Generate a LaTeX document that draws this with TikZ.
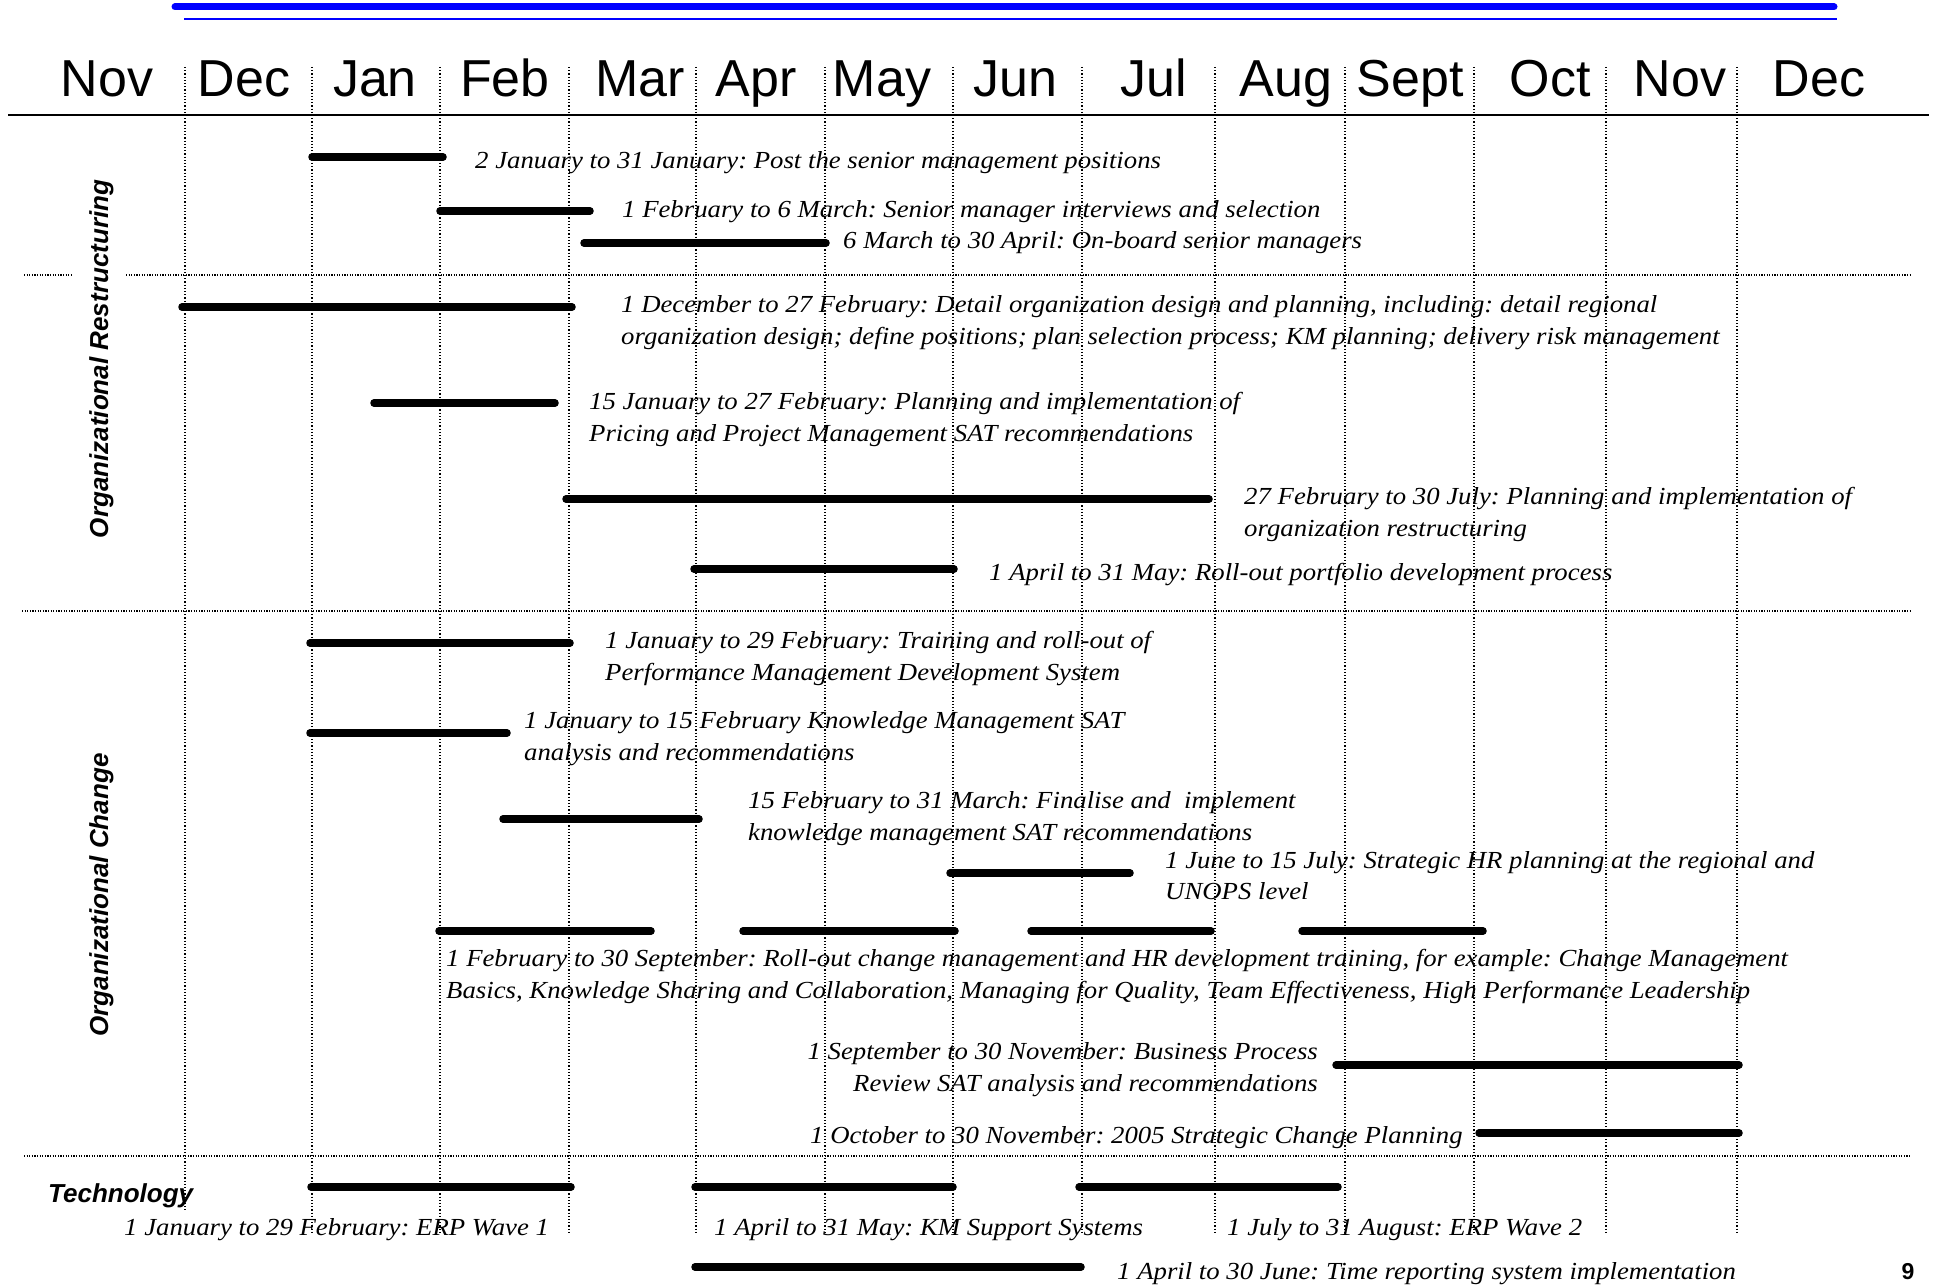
\documentclass[tikz,border=0pt]{standalone}
\usepackage{fontspec}
\setmainfont{Liberation Serif}
\setsansfont{Liberation Sans}
\newfontfamily\lblfam{Liberation Serif}[FakeStretch=1.092]
\newcommand{\lblfont}{\lblfam\itshape\fontsize{24.5}{32}\selectfont\frenchspacing}
\newcommand{\monthfont}{\sffamily\fontsize{52}{60}\selectfont}
\newcommand{\sectfont}{\sffamily\bfseries\itshape\fontsize{26}{30}\selectfont}
\definecolor{topblue}{RGB}{0,0,255}
\frenchspacing
\begin{document}
\begin{tikzpicture}[x=1pt,y=-1pt,
  grid/.style={line width=1.2pt, dash pattern=on 1.2pt off 2pt},
  sep/.style={line width=1.2pt, dash pattern=on 1.2pt off 1.4pt},
  bar/.style={line width=7.5pt, line cap=round},
  lbl/.style={font=\lblfont, anchor=base west, inner sep=0pt},
  lblr/.style={font=\lblfont, anchor=base east, inner sep=0pt},
  month/.style={font=\monthfont, anchor=base, inner sep=0pt},
  sect/.style={font=\sectfont, inner sep=0pt}]
\useasboundingbox (0,0) rectangle (1933,1287);
% top blue rules
\draw[topblue, line width=7pt, line cap=round] (175,7) -- (1834,7);
\draw[topblue, line width=2pt] (184,19) -- (1837,19);
% month labels
\foreach \m/\x [count=\i] in {Nov/107,Dec/244,Jan/375,Feb/505,Mar/640,Apr/756,May/882,Jun/1015,Jul/1154,Aug/1286,Sept/1410,Oct/1550,Nov/1680,Dec/1819}
  \node[month] (m\i) at (\x,97) {\m};
\draw[line width=2.5pt] (8,115) -- (1929,115);
% vertical grid lines
\draw[grid] (185,67) -- (185,1210);
\foreach \x in {312,440,569,696,825,953,1082,1215,1345,1474,1606,1737}
  \draw[grid] (\x,67) -- (\x,1233);
% separators
\draw[sep] (24,275) -- (73,275);
\draw[sep] (126,275) -- (1911,275);
\draw[sep] (22,611) -- (1911,611);
\draw[sep] (24,1156) -- (1911,1156);
% section labels
\node[sect, rotate=90, anchor=base] (s1) at (108,359) {Organizational Restructuring};
\node[sect, rotate=90, anchor=base] (s2) at (108,895) {Organizational Change};
\node[sect, anchor=base west] (s3) at (48,1202) {Technology};
% Organizational Restructuring
\draw[bar] (312,157) -- (443,157);
\node[lbl] (t1) at (475,168) {2 January to 31 January: Post the senior management positions};
\draw[bar] (440,211) -- (590,211);
\node[lbl] (t2) at (622,217) {1 February to 6 March: Senior manager interviews and selection};
\draw[bar] (584,243) -- (826,243);
\node[lbl] (t3) at (843,248) {6 March to 30 April: On-board senior managers};
\draw[bar] (182,307) -- (572,307);
\node[lbl] (t4a) at (621,312) {1 December to 27 February: Detail organization design and planning, including: detail regional};
\node[lbl] (t4b) at (621,344) {organization design; define positions; plan selection process; KM planning; delivery risk management};
\draw[bar] (374,403) -- (555,403);
\node[lbl] (t5a) at (589,409) {15 January to 27 February: Planning and implementation of};
\node[lbl] (t5b) at (589,441) {Pricing and Project Management SAT recommendations};
\draw[bar] (566,499) -- (1209,499);
\node[lbl] (t6a) at (1244,504) {27 February to 30 July: Planning and implementation of};
\node[lbl] (t6b) at (1244,536) {organization restructuring};
\draw[bar] (694,569) -- (954,569);
\node[lbl] (t7) at (989,580) {1 April to 31 May: Roll-out portfolio development process};
% Organizational Change
\draw[bar] (310,643) -- (570,643);
\node[lbl] (t8a) at (605,648) {1 January to 29 February: Training and roll-out of};
\node[lbl] (t8b) at (605,680) {Performance Management Development System};
\draw[bar] (310,733) -- (507,733);
\node[lbl] (t9a) at (524,728) {1 January to 15 February Knowledge Management SAT};
\node[lbl] (t9b) at (524,760) {analysis and recommendations};
\draw[bar] (503,819) -- (699,819);
\node[lbl] (t10a) at (748,808) {15 February to 31 March: Finalise and\ \ implement};
\node[lbl] (t10b) at (748,840) {knowledge management SAT recommendations};
\draw[bar] (950,873) -- (1130,873);
\node[lbl] (t11a) at (1165,868) {1 June to 15 July: Strategic HR planning at the regional and};
\node[lbl] (t11b) at (1165,899) {UNOPS level};
\draw[bar] (439,931) -- (651,931);
\draw[bar] (743,931) -- (955,931);
\draw[bar] (1031,931) -- (1211,931);
\draw[bar] (1302,931) -- (1483,931);
\node[lbl] (t12a) at (446,966) {1 February to 30 September: Roll-out change management and HR development training, for example: Change Management};
\node[lbl] (t12b) at (446,998) {Basics, Knowledge Sharing and Collaboration, Managing for Quality, Team Effectiveness, High Performance Leadership};
\node[lblr] (t13a) at (1318,1059) {1 September to 30 November: Business Process};
\node[lblr] (t13b) at (1318,1091) {Review SAT analysis and recommendations};
\draw[bar] (1336,1065) -- (1739,1065);
\node[lbl] (t14) at (810,1143) {1 October to 30 November: 2005 Strategic Change Planning};
\draw[bar] (1479,1133) -- (1739,1133);
% Technology
\draw[bar] (311,1187) -- (571,1187);
\node[lbl] (t15) at (124,1235) {1 January to 29 February: ERP Wave 1};
\draw[bar] (695,1187) -- (953,1187);
\node[lbl] (t16) at (714,1235) {1 April to 31 May: KM Support Systems};
\draw[bar] (1079,1187) -- (1338,1187);
\node[lbl] (t17) at (1227,1235) {1 July to 31 August: ERP Wave 2};
\draw[bar] (695,1267) -- (1081,1267);
\node[lbl] (t18) at (1117,1279) {1 April to 30 June: Time reporting system implementation};
\node[font=\sffamily\bfseries\fontsize{23}{26}\selectfont, anchor=base, inner sep=0pt] (pg) at (1908,1279) {9};
\end{tikzpicture}
\end{document}
